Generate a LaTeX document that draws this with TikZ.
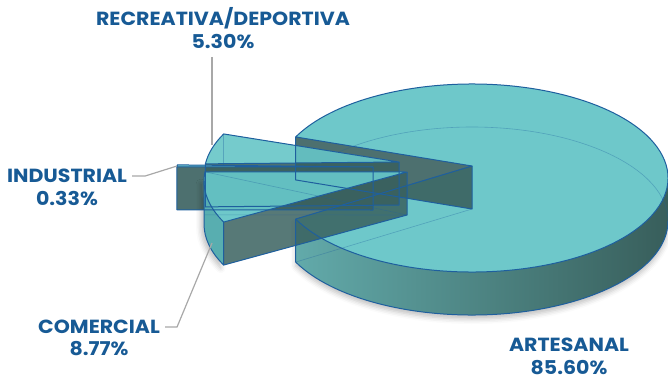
\documentclass[tikz,border=0pt]{standalone}
\usepackage{fontspec}
\setmainfont{Poppins}[FakeStretch=1.08]
\usetikzlibrary{calc,shadows.blur}
\definecolor{topteal}{HTML}{66C5C7}
\definecolor{darkwall}{HTML}{3A615F}
\definecolor{wallL}{HTML}{62AAAA}
\definecolor{wallM}{HTML}{4C8583}
\definecolor{wallR}{HTML}{385E5B}
\definecolor{outerC}{HTML}{58AEB0}
\definecolor{edgeblue}{HTML}{1E5F9E}
\definecolor{txtblue}{HTML}{175A95}
\definecolor{leadergray}{HTML}{A8A8A8}
\begin{document}
\begin{tikzpicture}[x=1pt,y=1pt,
  topface/.style={fill=topteal, fill opacity=0.9},
  darkface/.style={fill=darkwall, fill opacity=0.9},
  edge/.style={draw=edgeblue, line width=1pt, line join=round},
  hid/.style={draw=edgeblue, line width=0.6pt, draw opacity=0.35},
  lbl/.style={font=\bfseries\fontsize{19}{22}\selectfont, text=txtblue, inner sep=0pt},
  leader/.style={draw=leadergray, line width=1.2pt},
  ell/.style={x radius=196pt, y radius=94pt}]
\useasboundingbox (0,0) rectangle (668,381);
% ---------- geometry ----------
\def\H{43}
% artesanal
\coordinate (Ac) at (472,203);
\coordinate (At) at (472,215);
\coordinate (Ab) at (472,172);
\coordinate (A1) at ($(Ac)+(154.1:196pt and 94pt)$);
\coordinate (A2) at ($(Ac)+(205.9:196pt and 94pt)$);
\coordinate (A1b) at ($(A1)+(0,-\H)$);
\coordinate (A2b) at ($(A2)+(0,-\H)$);
\coordinate (A0b) at ($(Ac)+(196,-\H)$);
% recreativa
\coordinate (Rc) at (400,206);
\coordinate (Rt) at (399,219);
\coordinate (Rb) at (399,176);
\coordinate (R1) at ($(Rc)+(154.1:196pt and 94pt)$);
\coordinate (R2) at ($(Rc)+(173.2:196pt and 94pt)$);
\coordinate (R1b) at ($(R1)+(0,-\H)$);
\coordinate (R2b) at ($(R2)+(0,-\H)$);
% industrial
\coordinate (Ic) at (372,205);
\coordinate (It) at (373,214);
\coordinate (Ib) at (373,171);
\coordinate (I1) at ($(Ic)+(173.2:196pt and 94pt)$);
\coordinate (I2) at ($(Ic)+(174.4:196pt and 94pt)$);
\coordinate (I2b) at ($(I2)+(0,-\H)$);
% comercial
\coordinate (Cc) at (400,200);
\coordinate (Ct) at (407,209);
\coordinate (Cb) at (407,166);
\coordinate (C1) at ($(Cc)+(174.4:196pt and 94pt)$);
\coordinate (C2) at ($(Cc)+(205.9:196pt and 94pt)$);
\coordinate (C0) at ($(Cc)+(180:196pt and 94pt)$);
\coordinate (C1b) at ($(C1)+(0,-\H)$);
\coordinate (C2b) at ($(C2)+(0,-\H)$);
\coordinate (C0b) at ($(C0)+(0,-\H)$);
% ---------- artesanal ----------
\shade[left color=wallL, middle color=wallM, right color=wallR,
  blur shadow={shadow xshift=0pt, shadow yshift=-4pt, shadow blur radius=5pt, shadow opacity=25}]
  (A2) arc[start angle=205.9, end angle=360, ell] -- ++(0,-\H)
  arc[start angle=360, end angle=205.9, ell] -- cycle;
\fill[topface, fill opacity=0.95] (At) -- (A1) arc[start angle=154.1, end angle=-154.1, ell] -- cycle;
\fill[darkface] (A1) -- (At) -- (Ab) -- (A1b) -- cycle;
\draw[hid] (A2b) -- (Ab);
\draw[hid] (A0b) arc[start angle=0, end angle=154.1, ell];
\draw[hid] (A2) -- (At);
% ---------- recreativa ----------
\fill[topface] (Rt) -- (R1) arc[start angle=154.1, end angle=173.2, ell] -- cycle;
\fill[darkface] (R2) -- (Rt) -- (Rb) -- (R2b) -- cycle;
\draw[hid] (R1) -- (R1b);
% ---------- industrial ----------
\fill[topface] (It) -- (I1) arc[start angle=173.2, end angle=174.4, ell] -- cycle;
\fill[darkface] (I2) -- (It) -- (Ib) -- (I2b) -- cycle;
% ---------- comercial ----------
\fill[outerC, blur shadow={shadow xshift=-3pt, shadow yshift=-3pt, shadow blur radius=5pt, shadow opacity=25}]
  (C0) arc[start angle=180, end angle=205.9, ell] -- ++(0,-\H)
  arc[start angle=205.9, end angle=180, ell] -- cycle;
\fill[darkface, fill opacity=0.85] (C2) -- (Ct) -- (Cb) -- (C2b) -- cycle;
\fill[topface, fill opacity=0.95] (Ct) -- (C1) arc[start angle=174.4, end angle=205.9, ell] -- cycle;
\draw[hid] (C1) -- (Cb) ;
\draw[hid] (C1b) -- (Cb);
% ---------- edges ----------
\draw[edge] (At) -- (A1) arc[start angle=154.1, end angle=-154.1, ell] -- cycle;
\draw[edge] (A1) -- (A1b) -- (Ab) -- (At);
\draw[edge] (A2) -- (A2b) arc[start angle=205.9, end angle=360, ell];
\draw[edge] (Rt) -- (R1) arc[start angle=154.1, end angle=173.2, ell] -- cycle;
\draw[edge] (R2) -- (R2b) -- (Rb) -- (Rt);
\draw[edge] (It) -- (I1) arc[start angle=173.2, end angle=174.4, ell] -- cycle;
\draw[edge] (I2) -- (I2b) -- (Ib) -- (It);
\draw[edge] (Ct) -- (C1) arc[start angle=174.4, end angle=205.9, ell] -- cycle;
\draw[edge] (C2) -- (C2b) -- (Cb) -- (Ct);
\draw[edge] (C0) -- (C0b) arc[start angle=180, end angle=205.9, ell];
% ---------- labels ----------
\node[lbl] (recname) at (223,363) {RECREATIVA/DEPORTIVA};
\node[lbl] (recval) at (223,339) {5.30\%};
\node[lbl] (indname) at (67,205) {INDUSTRIAL};
\node[lbl] (indval) at (67,182) {0.33\%};
\node[lbl] (comname) at (99,54) {COMERCIAL};
\node[lbl] (comval) at (99,32) {8.77\%};
\node[lbl] (artname) at (569,36) {ARTESANAL};
\node[lbl] (artval) at (569,13) {85.60\%};
% ---------- leaders ----------
\coordinate (recpt) at (212,236);
\coordinate (indpt) at (177,215);
\coordinate (compt) at (212,138);
\draw[leader] (212,324) -- (recpt);
\draw[leader] ([xshift=5pt]indname.east) -- ++(13,0) -- (indpt);
\draw[leader] ([xshift=5pt]comname.east) -- ++(12,0) -- (compt);
\end{tikzpicture}
\end{document}
